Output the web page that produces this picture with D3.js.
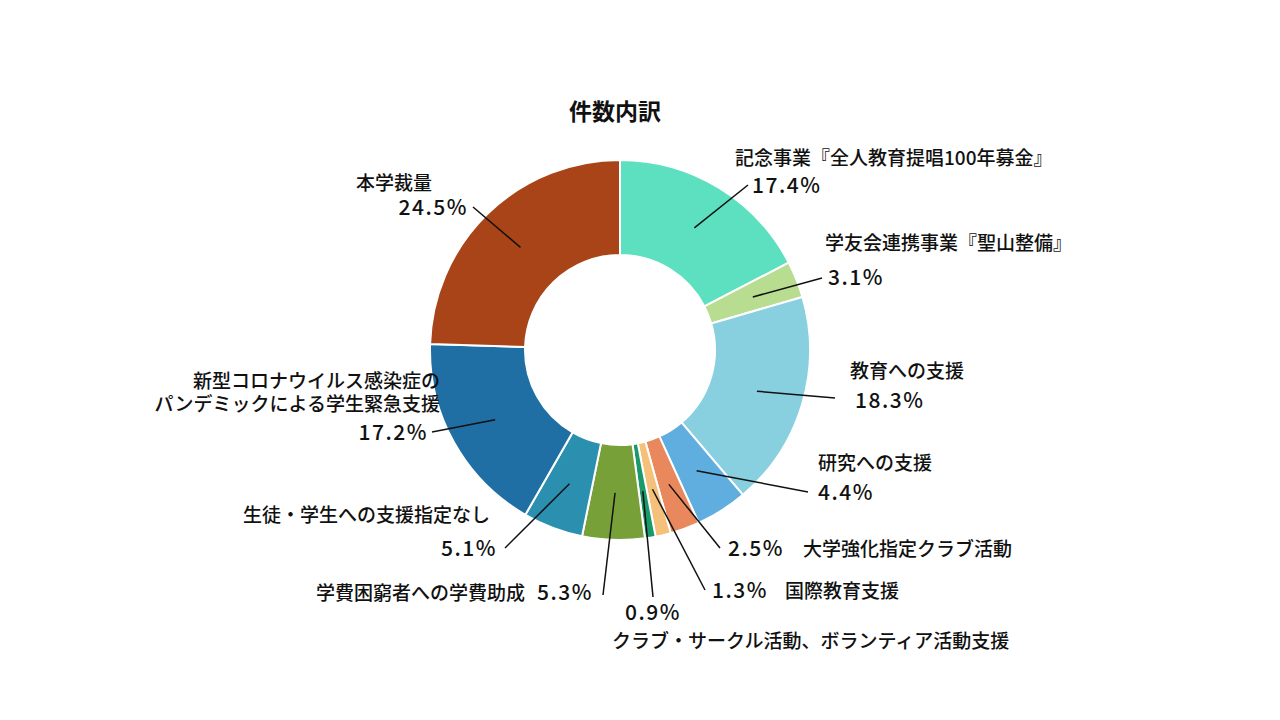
<!DOCTYPE html>
<html><head><meta charset="utf-8">
<script src="https://cdn.jsdelivr.net/npm/d3@7"></script>
<style>body{margin:0;background:#fff}text{font-family:"Noto Sans CJK JP","Noto Sans",sans-serif;fill:#111}</style>
</head><body><svg id="c" width="1280" height="720"></svg>
<script>
const categories=["記念事業『全人教育提唱100年募金』","学友会連携事業『聖山整備』","教育への支援","研究への支援","大学強化指定クラブ活動","国際教育支援","クラブ・サークル活動、ボランティア活動支援","学費困窮者への学費助成","生徒・学生への支援指定なし","新型コロナウイルス感染症の\nパンデミックによる学生緊急支援","本学裁量"];
const values=[17.4,3.1,18.3,4.4,2.5,1.3,0.9,5.3,5.1,17.2,24.5];
const colors=["#5ce0c0","#b8dc90","#88cfe0","#60aee0","#e8885c","#f5c07a","#1a9a6a","#78a038","#2b90b0","#1f6fa5","#a84418"];
const layout=[
 {e:[748,185],p:[752,193,"start"],n:[735,165,"start"]},
 {e:[822,278],p:[828,285,"start"],n:[825,250,"start"]},
 {e:[835,398],p:[855,408,"start"],n:[850,378,"start"]},
 {e:[808,492],p:[818,500,"start"],n:[818,470,"start"]},
 {e:[720,548],p:[728,556,"start"],n:[803,556,"start"]},
 {e:[705,590],p:[712,598,"start"],n:[785,598,"start"]},
 {e:[653,597],p:[625,620,"start"],n:[612,648,"start"]},
 {e:[603,595],p:[593,600,"end"],n:[525,600,"end"]},
 {e:[505,548],p:[497,556,"end"],n:[490,522,"end"]},
 {e:[432,432],p:[428,440,"end"],n:[440,388,"end"]},
 {e:[473,207],p:[468,215,"end"],n:[432,190,"end"]}
];
const svg=d3.select("#c"),cx=620,cy=350,R=190,r=95;
svg.append("text").attr("x",615).attr("y",120).attr("text-anchor","middle").attr("font-size",23).attr("font-weight","bold").text("件数内訳");
const pie=d3.pie().sort(null).value(d=>d)(values);
const arc=d3.arc().innerRadius(r).outerRadius(R);
const g=svg.append("g").attr("transform",`translate(${cx},${cy})`);
g.selectAll("path").data(pie).join("path").attr("d",arc).attr("fill",(d,i)=>colors[i]).attr("stroke","#fff").attr("stroke-width",2);
pie.forEach((d,i)=>{
 const a=(d.startAngle+d.endAngle)/2, rr=143;
 const sx=cx+rr*Math.sin(a), sy=cy-rr*Math.cos(a);
 const L=layout[i];
 svg.append("line").attr("x1",sx).attr("y1",sy).attr("x2",L.e[0]).attr("y2",L.e[1]).attr("stroke","#111").attr("stroke-width",1.5);
 svg.append("text").attr("x",L.p[0]).attr("y",L.p[1]).attr("text-anchor",L.p[2]).attr("font-size",21).attr("font-weight",500).attr("letter-spacing",1.5).text(values[i].toFixed(1)+"%");
 const lines=categories[i].split("\n");
 lines.forEach((t,k)=>svg.append("text").attr("x",L.n[0]).attr("y",L.n[1]+k*23).attr("text-anchor",L.n[2]).attr("font-size",19).attr("font-weight",500).text(t));
});
</script></body></html>
